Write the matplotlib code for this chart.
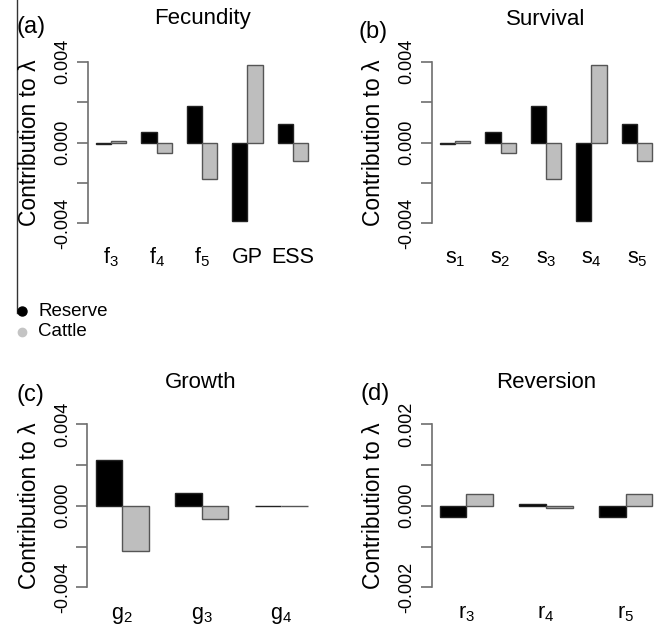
import numpy as np
import matplotlib.pyplot as plt
from matplotlib.lines import Line2D

plt.rcParams['font.family'] = ['Liberation Sans', 'DejaVu Sans']
plt.rcParams['mathtext.fontset'] = 'custom'
plt.rcParams['mathtext.rm'] = 'Liberation Sans'
plt.rcParams['mathtext.it'] = 'Liberation Sans:italic'

# ---- data ----
fec_labels = ['f$_3$', 'f$_4$', 'f$_5$', 'GP', 'ESS']
fec_reserve = [-0.00008, 0.0005, 0.00182, -0.00386, 0.00093]
fec_cattle = [0.00005, -0.0005, -0.00181, 0.00385, -0.00094]

surv_labels = ['s$_1$', 's$_2$', 's$_3$', 's$_4$', 's$_5$']
surv_reserve = [-0.00008, 0.0005, 0.0018, -0.00386, 0.00093]
surv_cattle = [0.00005, -0.0005, -0.0018, 0.00385, -0.00094]

grow_labels = ['g$_2$', 'g$_3$', 'g$_4$']
grow_reserve = [0.00226, 0.00065, 0.0]
grow_cattle = [-0.00224, -0.00064, 0.0]

rev_labels = ['r$_3$', 'r$_4$', 'r$_5$']
rev_reserve = [-0.000265, 0.00004, -0.000265]
rev_cattle = [0.00029, -0.00005, 0.00029]

W, H = 659, 627
fig = plt.figure(figsize=(W / 100, H / 100), dpi=100)

AXCOL = '#6e6e6e'


def px_axes(left, top, width, height):
    return fig.add_axes([left / W, 1 - (top + height) / H, width / W, height / H])


def panel(ax, labels, reserve, cattle, lim, title, tag, ylab_x, tag_xy, title_xy,
          xpad=24):
    n = len(labels)
    idx = np.arange(n)
    xb = 1.5 + 3 * idx
    xg = 2.5 + 3 * idx
    ax.bar(xb, reserve, width=1.0, color='black', edgecolor='#222222', linewidth=1.0)
    ax.bar(xg, cattle, width=1.0, color='#bebebe', edgecolor='#555555', linewidth=1.0)
    span = 3 * n - 1
    ax.set_xlim(1 - 0.04 * span, 3 * n + 0.04 * span)
    ax.set_ylim(-lim * 1.08, lim * 1.08)
    for s in ['top', 'right', 'bottom']:
        ax.spines[s].set_visible(False)
    ax.spines['left'].set_bounds(-lim, lim)
    ax.spines['left'].set_color(AXCOL)
    ax.spines['left'].set_linewidth(1.2)
    ax.set_yticks(np.linspace(-lim, lim, 5))
    ax.set_yticklabels(['-%.3f' % lim, '', '0.000', '', '%.3f' % lim])
    ax.tick_params(axis='y', length=8, width=1.2, color=AXCOL, labelsize=13,
                   pad=3.5, labelcolor='black')
    plt.setp(ax.get_yticklabels(), rotation=90, va='center', ha='right',
             rotation_mode='default')
    ax.set_xticks(2 + 3 * idx)
    ax.set_xticklabels(labels, fontsize=15.5)
    ax.tick_params(axis='x', length=0, pad=xpad)
    plt.setp(ax.get_xticklabels(), va='baseline')
    ax.patch.set_alpha(0)

    # texts in figure pixel positions
    pos = ax.get_position()
    ymid = pos.y0 + pos.height / 2
    fig.text(ylab_x / W, ymid, 'Contribution to λ', rotation=90,
             ha='center', va='center', fontsize=16.5)
    fig.text(title_xy[0] / W, 1 - title_xy[1] / H, title, ha='center',
             va='baseline', fontsize=16)
    fig.text(tag_xy[0] / W, 1 - tag_xy[1] / H, tag, ha='left', va='center',
             fontsize=17)


ax_a = px_axes(87.5, 55.2, 229, 174.6)
panel(ax_a, fec_labels, fec_reserve, fec_cattle, 0.004, 'Fecundity', '(a)',
      30, (17, 27), (202, 24))

ax_b = px_axes(431.5, 55.2, 229, 174.6)
panel(ax_b, surv_labels, surv_reserve, surv_cattle, 0.004, 'Survival', '(b)',
      373, (359, 32), (546, 25))

ax_c = px_axes(87.1, 417.8, 229, 176)
panel(ax_c, grow_labels, grow_reserve, grow_cattle, 0.004, 'Growth', '(c)',
      30, (16, 395), (201, 388), xpad=18)

ax_d = px_axes(431.5, 417.8, 229, 176)
panel(ax_d, rev_labels, rev_reserve, rev_cattle, 0.002, 'Reversion', '(d)',
      373, (361, 394), (546, 388), xpad=18)

# stray left border line and legend
fig.add_artist(Line2D([17 / W, 17 / W], [1, 1 - 313 / H], color='#333333',
                      linewidth=1.0))
fig.add_artist(Line2D([22 / W], [1 - 311 / H], marker='o', markersize=6.5,
                      color='black', linestyle='none'))
fig.add_artist(Line2D([22 / W], [1 - 332 / H], marker='o', markersize=6,
                      color='#c4c4c4', linestyle='none'))
fig.text(38 / W, 1 - 311 / H, 'Reserve', ha='left', va='center', fontsize=13.5)
fig.text(38 / W, 1 - 332 / H, 'Cattle', ha='left', va='center', fontsize=13.5)

fig.savefig('out.png', dpi=100)
